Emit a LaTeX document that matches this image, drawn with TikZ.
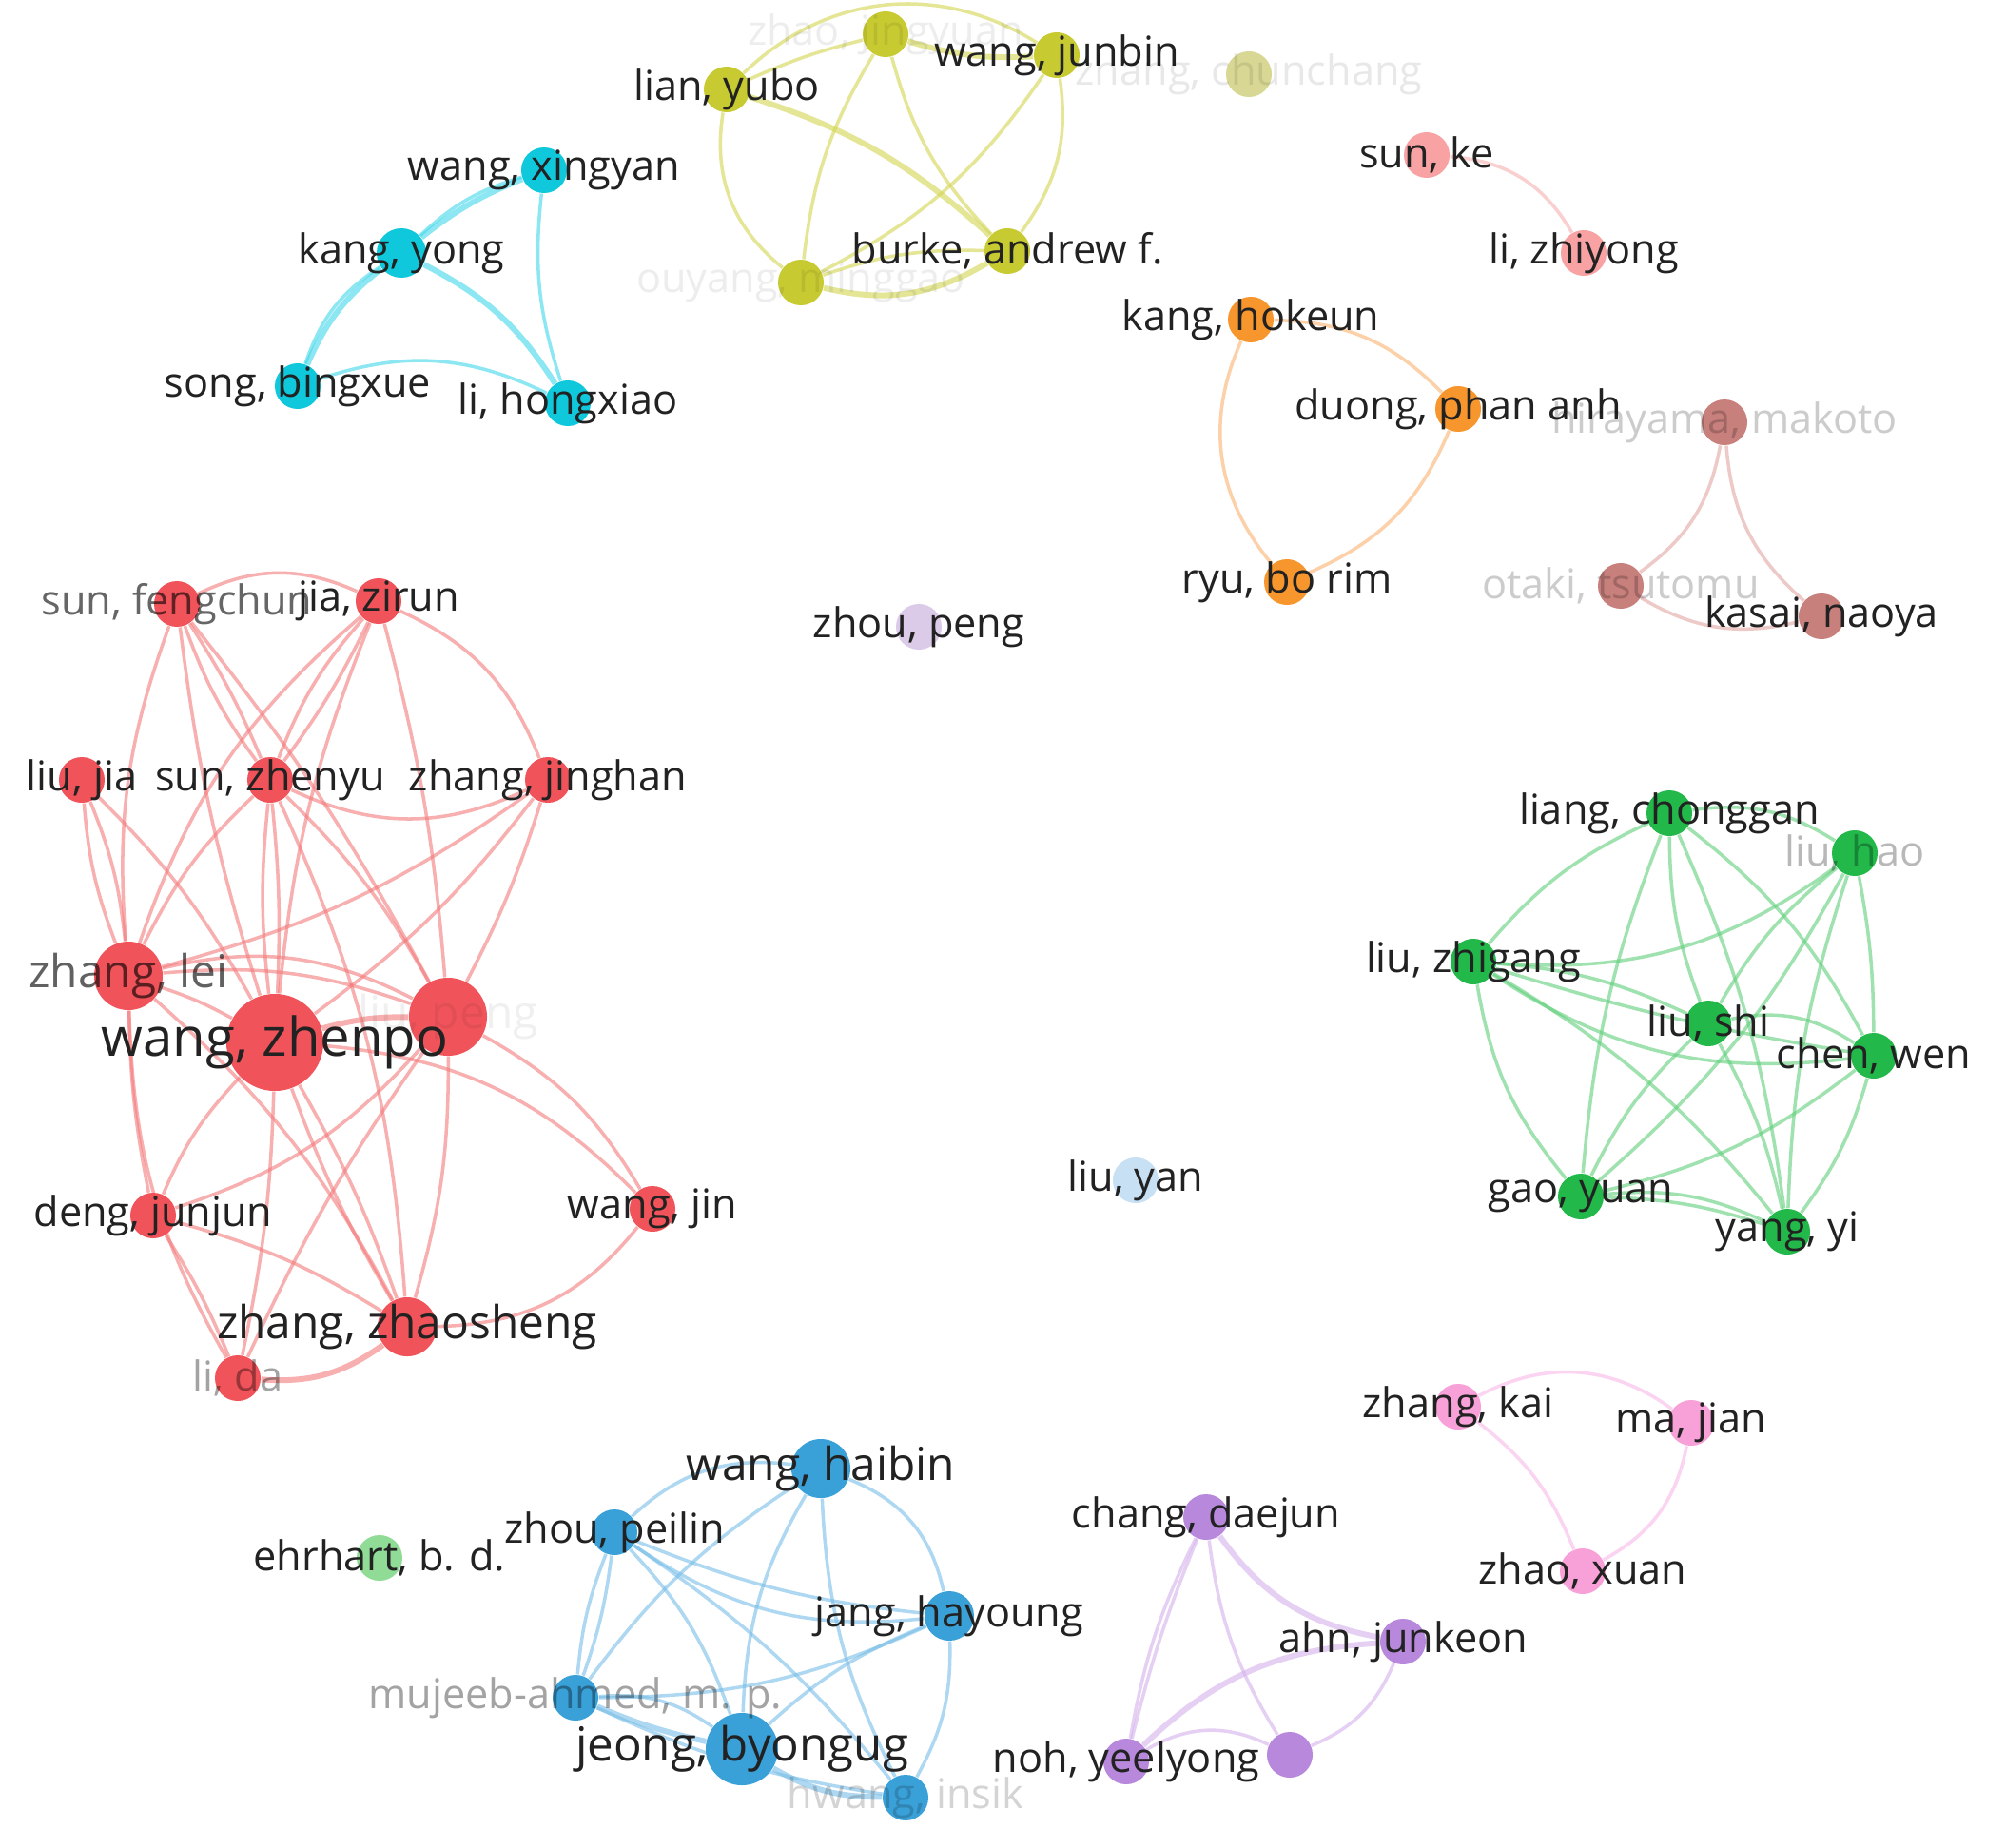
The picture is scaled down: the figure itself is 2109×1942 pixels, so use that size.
\documentclass[tikz,border=0pt]{standalone}
\usepackage{fontspec}
\setmainfont{Open Sans}
\definecolor{cRed}{HTML}{F0545A}
\definecolor{eRed}{HTML}{F47A7C}
\definecolor{cYel}{HTML}{C8CA32}
\definecolor{eYel}{HTML}{D2D650}
\definecolor{cCya}{HTML}{10C8DC}
\definecolor{eCya}{HTML}{40D8EA}
\definecolor{cSal}{HTML}{F8A2A4}
\definecolor{eSal}{HTML}{F8B0B0}
\definecolor{cOra}{HTML}{F8962E}
\definecolor{eOra}{HTML}{FAB270}
\definecolor{cBro}{HTML}{C8807C}
\definecolor{eBro}{HTML}{E2A8A2}
\definecolor{cGre}{HTML}{22B84A}
\definecolor{eGre}{HTML}{60D07C}
\definecolor{cBlu}{HTML}{3AA0D8}
\definecolor{eBlu}{HTML}{78BEE8}
\definecolor{cPur}{HTML}{B888DC}
\definecolor{ePur}{HTML}{D4B2EE}
\definecolor{cPin}{HTML}{F8A0D8}
\definecolor{ePin}{HTML}{F8B8E6}
\definecolor{cLav}{HTML}{DCCBE8}
\definecolor{cLbl}{HTML}{C8E0F4}
\definecolor{cLgr}{HTML}{90DC96}
\definecolor{cPyl}{HTML}{D8D894}
\definecolor{txt}{HTML}{222222}
\pgfdeclarelayer{edges}
\pgfsetlayers{edges,main}
\begin{document}
\begin{tikzpicture}[x=0.01cm,y=-0.01cm,
  dot/.style={circle, fill=#1, draw=none, inner sep=0pt, minimum size=0.48cm},
  lbl/.style={font=\fontsize{12.3}{14}\selectfont, text=txt, inner sep=0pt},
  lblb/.style={font=\fontsize{13.6}{16}\selectfont, text=txt, inner sep=0pt},
  fade/.style={text=black, text opacity=#1},
  lk/.style={draw=#1, line width=1pt, opacity=0.6},
  lkt/.style={draw=#1, line width=1.7pt, opacity=0.6}]
\useasboundingbox (0,0) rectangle (2109,1942);
% ---------- nodes ----------
% yellow
\node[dot=cYel] (zj) at (931,36) {};
\node[dot=cYel] (wj) at (1111,58) {};
\node[dot=cYel] (ly) at (764,94) {};
\node[dot=cYel] (ba) at (1059,264) {};
\node[dot=cYel] (om) at (842,297) {};
\node[dot=cPyl] (zc) at (1313,78) {};
% cyan
\node[dot=cCya] (wx) at (572,179) {};
\node[dot=cCya, minimum size=0.52cm] (ky) at (422,266) {};
\node[dot=cCya] (sb) at (313,406) {};
\node[dot=cCya] (lh) at (597,424) {};
% salmon
\node[dot=cSal] (sk) at (1500,163) {};
\node[dot=cSal] (lz) at (1665,266) {};
% orange
\node[dot=cOra] (kh) at (1315,336) {};
\node[dot=cOra] (dp) at (1533,430) {};
\node[dot=cOra] (rb) at (1353,612) {};
% brown
\node[dot=cBro] (hm) at (1813,444) {};
\node[dot=cBro] (ot) at (1704,616) {};
\node[dot=cBro] (kn) at (1915,648) {};
% singles
\node[dot=cLav] (zp) at (966,659) {};
\node[dot=cLbl] (lyn) at (1194,1241) {};
\node[dot=cLgr] (eh) at (399,1638) {};
% red
\node[dot=cRed] (sf) at (186,635) {};
\node[dot=cRed] (jz) at (398,632) {};
\node[dot=cRed] (lj) at (86,820) {};
\node[dot=cRed] (sz) at (284,820) {};
\node[dot=cRed] (zjh) at (576,820) {};
\node[dot=cRed, minimum size=0.72cm] (zl) at (135,1026) {};
\node[dot=cRed, minimum size=1.02cm] (wz) at (289,1096) {};
\node[dot=cRed, minimum size=0.82cm] (lp) at (471,1069) {};
\node[dot=cRed] (dj) at (161,1278) {};
\node[dot=cRed] (wjn) at (686,1271) {};
\node[dot=cRed, minimum size=0.62cm] (zz) at (428,1395) {};
\node[dot=cRed] (ld) at (250,1449) {};
% green
\node[dot=cGre] (lc) at (1755,855) {};
\node[dot=cGre] (lha) at (1950,897) {};
\node[dot=cGre] (lzg) at (1549,1011) {};
\node[dot=cGre] (ls) at (1796,1076) {};
\node[dot=cGre] (cw) at (1970,1110) {};
\node[dot=cGre] (gy) at (1662,1258) {};
\node[dot=cGre] (yy) at (1879,1295) {};
% blue
\node[dot=cBlu, minimum size=0.62cm] (wh) at (863,1544) {};
\node[dot=cBlu] (zpl) at (646,1611) {};
\node[dot=cBlu, minimum size=0.52cm] (jh) at (998,1699) {};
\node[dot=cBlu] (ma) at (605,1785) {};
\node[dot=cBlu, minimum size=0.76cm] (jb) at (780,1839) {};
\node[dot=cBlu] (hi) at (952,1890) {};
% purple
\node[dot=cPur] (cd) at (1268,1595) {};
\node[dot=cPur] (aj) at (1475,1726) {};
\node[dot=cPur] (ny) at (1184,1852) {};
\node[dot=cPur] (un) at (1356,1845) {};
% pink
\node[dot=cPin] (zk) at (1533,1479) {};
\node[dot=cPin] (mj) at (1778,1496) {};
\node[dot=cPin] (zx) at (1664,1652) {};
% ---------- labels ----------
\node[lbl, fade=0.07] (zj-l) at (zj) {zhao, jingyuan};
\node[lbl] (wj-l) at (wj) {wang, junbin};
\node[lbl] (ly-l) at (ly) {lian, yubo};
\node[lbl] (ba-l) at (ba) {burke, andrew f.};
\node[lbl, fade=0.07] (om-l) at (om) {ouyang, minggao};
\node[lbl, fade=0.09] (zc-l) at (zc) {zhang, chunchang};
\node[lbl] (wx-l) at (wx) {wang, xingyan};
\node[lbl] (ky-l) at (ky) {kang, yong};
\node[lbl] (sb-l) at (sb) {song, bingxue};
\node[lbl] (lh-l) at (lh) {li, hongxiao};
\node[lbl] (sk-l) at (sk) {sun, ke};
\node[lbl] (lz-l) at (lz) {li, zhiyong};
\node[lbl] (kh-l) at (kh) {kang, hokeun};
\node[lbl] (dp-l) at (dp) {duong, phan anh};
\node[lbl] (rb-l) at (rb) {ryu, bo rim};
\node[lbl, fade=0.2] (hm-l) at (hm) {hirayama, makoto};
\node[lbl, fade=0.2] (ot-l) at (ot) {otaki, tsutomu};
\node[lbl] (kn-l) at (kn) {kasai, naoya};
\node[lbl] (zp-l) at (zp) {zhou, peng};
\node[lbl] (lyn-l) at (lyn) {liu, yan};
\node[lbl] (eh-l) at (eh) {ehrhart, b. d.};
\node[lbl, fade=0.6] (sf-l) at (sf) {sun, fengchun};
\node[lbl] (jz-l) at (jz) {jia, zirun};
\node[lbl] (lj-l) at (lj) {liu, jia};
\node[lbl] (sz-l) at (sz) {sun, zhenyu};
\node[lbl] (zjh-l) at (zjh) {zhang, jinghan};
\node[lblb, fade=0.62] (zl-l) at (zl) {zhang, lei};
\node[font=\fontsize{16}{19}\selectfont, text=txt, inner sep=0pt] (wz-l) at (wz) {wang, zhenpo};
\node[lblb, fade=0.06] (lp-l) at (lp) {liu, peng};
\node[lbl] (dj-l) at (dj) {deng, junjun};
\node[lbl] (wjn-l) at (wjn) {wang, jin};
\node[lblb] (zz-l) at (zz) {zhang, zhaosheng};
\node[lbl, fade=0.36] (ld-l) at (ld) {li, da};
\node[lbl] (lc-l) at (lc) {liang, chonggan};
\node[lbl, fade=0.28] (lha-l) at (lha) {liu, hao};
\node[lbl] (lzg-l) at (lzg) {liu, zhigang};
\node[lbl] (ls-l) at (ls) {liu, shi};
\node[lbl] (cw-l) at (cw) {chen, wen};
\node[lbl] (gy-l) at (gy) {gao, yuan};
\node[lbl] (yy-l) at (yy) {yang, yi};
\node[lblb] (wh-l) at (wh) {wang, haibin};
\node[lbl] (zpl-l) at (zpl) {zhou, peilin};
\node[lbl] (jh-l) at (jh) {jang, hayoung};
\node[lbl, fade=0.36] (ma-l) at (ma) {mujeeb-ahmed, m. p.};
\node[font=\fontsize{14}{17}\selectfont, text=txt, inner sep=0pt] (jb-l) at (jb) {jeong, byongug};
\node[lbl, fade=0.17] (hi-l) at (hi) {hwang, insik};
\node[lbl] (cd-l) at (cd) {chang, daejun};
\node[lbl] (aj-l) at (aj) {ahn, junkeon};
\node[lbl] (ny-l) at (ny) {noh, yeelyong};
\node[lbl] (zk-l) at (zk) {zhang, kai};
\node[lbl] (mj-l) at (mj) {ma, jian};
\node[lbl] (zx-l) at (zx) {zhao, xuan};
% ---------- edges ----------
\begin{pgfonlayer}{edges}
\fill[white] (0,0) rectangle (2109,1942);
% yellow
\draw[lkt=eYel] (zj) to[bend right=10] (wj);
\draw[lk=eYel] (ly) to[bend left=38] (wj);
\draw[lk=eYel] (ly) to[bend left=5] (zj);
\draw[lkt=eYel] (ly) to[bend left=12] (ba);
\draw[lk=eYel] (ly) to[bend right=30] (om);
\draw[lk=eYel] (zj) to[bend right=12] (om);
\draw[lk=eYel] (zj) to[bend right=14] (ba);
\draw[lk=eYel] (wj) to[bend left=22] (ba);
\draw[lk=eYel] (wj) to[bend left=14] (om);
\draw[lk=eYel] (om) to[bend left=10] (ba);
\draw[lkt=eYel] (om) to[bend right=22] (ba);
% cyan
\draw[lk=eCya] (sb) to[bend left=22] (lh);
\draw[lk=eCya] (lh) to[bend left=12] (wx);
\draw[lkt=eCya] (ky) to[bend left=8] (wx);
\draw[lk=eCya] (ky) to[bend left=13] (wx);
\draw[lkt=eCya] (sb) to[bend left=14] (ky);
\draw[lk=eCya] (sb) to[bend left=19] (ky);
\draw[lkt=eCya] (ky) to[bend left=15] (lh);
% salmon
\draw[lk=eSal] (sk) to[bend left=28] (lz);
% orange
\draw[lk=eOra] (kh) to[bend right=32] (rb);
\draw[lk=eOra] (kh) to[bend left=22] (dp);
\draw[lk=eOra] (dp) to[bend left=22] (rb);
% brown
\draw[lk=eBro] (hm) to[bend left=22] (ot);
\draw[lk=eBro] (hm) to[bend right=22] (kn);
\draw[lk=eBro] (ot) to[bend right=22] (kn);
% pink
\draw[lk=ePin] (zk) to[bend left=32] (mj);
\draw[lk=ePin] (zk) to[bend left=15] (zx);
\draw[lk=ePin] (mj) to[bend left=25] (zx);
% purple
\draw[lkt=ePur] (cd) to[bend right=22] (aj);
\draw[lk=ePur] (cd) to[bend right=4] (ny);
\draw[lk=ePur] (cd) to[bend right=8] (ny);
\draw[lk=ePur] (cd) to[bend right=12] (un);
\draw[lkt=ePur] (aj) to[bend right=20] (ny);
\draw[lk=ePur] (aj) to[bend left=22] (un);
\draw[lk=ePur] (ny) to[bend left=28] (un);
% blue
\draw[lk=eBlu] (wh) to[bend right=25] (zpl);
\draw[lk=eBlu] (wh) to[bend left=28] (jh);
\draw[lk=eBlu] (wh) to[bend right=10] (ma);
\draw[lk=eBlu] (wh) to[bend right=14] (jb);
\draw[lk=eBlu] (wh) to[bend right=12] (hi);
\draw[lk=eBlu] (zpl) to[bend right=8] (jh);
\draw[lk=eBlu] (zpl) to[bend right=20] (jh);
\draw[lk=eBlu] (zpl) to[bend right=8] (ma);
\draw[lk=eBlu] (zpl) to[bend left=6] (ma);
\draw[lk=eBlu] (zpl) to[bend left=12] (jb);
\draw[lk=eBlu] (zpl) to[bend left=8] (hi);
\draw[lk=eBlu] (jh) to[bend right=10] (jb);
\draw[lk=eBlu] (jh) to[bend left=12] (ma);
\draw[lk=eBlu] (jh) to[bend left=15] (hi);
\draw[lk=eBlu] (ma) to[bend left=20] (jb);
\draw[lkt=eBlu] (ma) to[bend right=5] (jb);
\draw[lk=eBlu] (ma) to[bend right=8] (hi);
\draw[lkt=eBlu] (jb) to[bend right=15] (hi);
% green
\draw[lk=eGre] (lc) to[bend left=20] (lha);
\draw[lk=eGre] (lc) to[bend right=12] (lzg);
\draw[lk=eGre] (lc) to[bend right=10] (ls);
\draw[lk=eGre] (lc) to[bend left=12] (cw);
\draw[lk=eGre] (lc) to[bend right=8] (gy);
\draw[lk=eGre] (lc) to[bend left=8] (yy);
\draw[lk=eGre] (lha) to[bend left=20] (lzg);
\draw[lk=eGre] (lha) to[bend right=10] (ls);
\draw[lk=eGre] (lha) to[bend left=5] (cw);
\draw[lk=eGre] (lha) to[bend left=10] (gy);
\draw[lk=eGre] (lha) to[bend right=8] (yy);
\draw[lk=eGre] (lzg) to[bend left=10] (ls);
\draw[lk=eGre] (lzg) to[bend right=20] (cw);
\draw[lk=eGre] (lzg) to[bend right=4] (cw);
\draw[lk=eGre] (lzg) to[bend right=15] (gy);
\draw[lk=eGre] (lzg) to[bend left=10] (yy);
\draw[lk=eGre] (ls) to[bend left=22] (cw);
\draw[lk=eGre] (ls) to[bend right=10] (gy);
\draw[lk=eGre] (ls) to[bend left=8] (yy);
\draw[lk=eGre] (cw) to[bend left=12] (gy);
\draw[lk=eGre] (cw) to[bend left=10] (yy);
\draw[lk=eGre] (gy) to[bend left=15] (yy);
\draw[lk=eGre] (gy) to[bend left=8] (yy);
% red
\draw[lk=eRed] (sf) to[bend left=25] (jz);
\draw[lk=eRed] (sf) to[bend left=5] (sz);
\draw[lk=eRed] (sf) to[bend right=8] (sz);
\draw[lk=eRed] (sf) to[bend right=12] (zl);
\draw[lk=eRed] (sf) to[bend left=5] (lp);
\draw[lk=eRed] (sf) to[bend right=5] (wz);
\draw[lk=eRed] (jz) to[bend right=10] (sz);
\draw[lk=eRed] (jz) to[bend left=5] (sz);
\draw[lk=eRed] (jz) to[bend right=15] (zl);
\draw[lk=eRed] (jz) to[bend left=5] (lp);
\draw[lk=eRed] (jz) to[bend left=22] (zjh);
\draw[lk=eRed] (jz) to[bend right=8] (wz);
\draw[lk=eRed] (lj) to[bend left=8] (zl);
\draw[lk=eRed] (lj) to[bend right=8] (zl);
\draw[lk=eRed] (lj) to[bend left=8] (wz);
\draw[lk=eRed] (sz) to[bend right=25] (zjh);
\draw[lk=eRed] (sz) to[bend left=4] (wz);
\draw[lk=eRed] (sz) to[bend right=6] (wz);
\draw[lk=eRed] (sz) to[bend left=8] (lp);
\draw[lk=eRed] (sz) to[bend left=10] (zz);
\draw[lk=eRed] (sz) to[bend right=10] (zl);
\draw[lk=eRed] (zjh) to[bend left=10] (zl);
\draw[lk=eRed] (zjh) to[bend left=8] (wz);
\draw[lk=eRed] (zjh) to[bend left=5] (lp);
\draw[lk=eRed] (zl) to[bend left=5] (wz);
\draw[lk=eRed] (zl) to[bend left=12] (lp);
\draw[lk=eRed] (zl) to[bend left=20] (lp);
\draw[lk=eRed] (zl) to[bend right=5] (dj);
\draw[lk=eRed] (zl) to[bend right=14] (ld);
\draw[lk=eRed] (zl) to[bend left=10] (zz);
\draw[lkt=eRed] (wz) to[bend left=8] (lp);
\draw[lk=eRed] (wz) to[bend right=10] (dj);
\draw[lk=eRed] (wz) to[bend left=5] (zz);
\draw[lk=eRed] (wz) to[bend right=5] (zz);
\draw[lk=eRed] (wz) to[bend left=5] (ld);
\draw[lk=eRed] (wz) to[bend left=20] (wjn);
\draw[lk=eRed] (lp) to[bend left=15] (wjn);
\draw[lk=eRed] (lp) to[bend left=8] (zz);
\draw[lk=eRed] (lp) to[bend left=15] (dj);
\draw[lk=eRed] (lp) to[bend right=5] (ld);
\draw[lk=eRed] (dj) to[bend left=8] (zz);
\draw[lk=eRed] (dj) to[bend left=5] (ld);
\draw[lkt=eRed] (zz) to[bend left=20] (ld);
\draw[lk=eRed] (zz) to[bend right=25] (wjn);
\end{pgfonlayer}
\end{tikzpicture}
\end{document}
